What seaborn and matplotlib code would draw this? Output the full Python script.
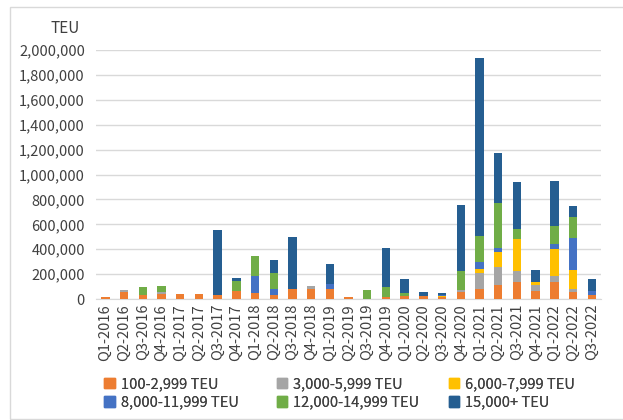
import matplotlib
matplotlib.use("Agg")
import matplotlib.pyplot as plt
import matplotlib.patches as patches
import seaborn as sns
import numpy as np
import pandas as pd

# Quarters and fleet segments
quarters = ["Q1-2016", "Q2-2016", "Q3-2016", "Q4-2016", "Q1-2017", "Q2-2017", "Q3-2017",
            "Q4-2017", "Q1-2018", "Q2-2018", "Q3-2018", "Q4-2018", "Q1-2019", "Q2-2019",
            "Q3-2019", "Q4-2019", "Q1-2020", "Q2-2020", "Q3-2020", "Q4-2020", "Q1-2021",
            "Q2-2021", "Q3-2021", "Q4-2021", "Q1-2022", "Q2-2022", "Q3-2022"]
segments = ["100-2,999 TEU", "3,000-5,999 TEU", "6,000-7,999 TEU",
            "8,000-11,999 TEU", "12,000-14,999 TEU", "15,000+ TEU"]
colors = ["#ED7D31", "#A5A5A5", "#FFC000", "#4472C4", "#70AD47", "#255E91"]

teu_100 = [13000, 56000, 29000, 40000, 40000, 40000, 29000, 67000, 48000, 29000, 80000, 83000, 77000, 19000,
           0, 19000, 27000, 27000, 13000, 56000, 78000, 112000, 139000, 64000, 139000, 59000, 32000]
teu_3000 = [0, 19000, 0, 13000, 0, 0, 0, 0, 0, 0, 0, 19000, 0, 0,
            0, 0, 0, 0, 0, 19000, 134000, 147000, 83000, 48000, 45000, 19000, 0]
teu_6000 = [0, 0, 0, 0, 0, 0, 0, 0, 0, 0, 0, 0, 0, 0,
            0, 0, 0, 0, 13000, 0, 29000, 120000, 259000, 27000, 214000, 155000, 0]
teu_8000 = [0, 0, 0, 0, 0, 0, 0, 0, 139000, 53000, 0, 0, 45000, 0,
            0, 0, 0, 0, 8000, 0, 56000, 27000, 0, 0, 45000, 257000, 35000]
teu_12000 = [0, 0, 67000, 48000, 0, 0, 0, 75000, 155000, 131000, 0, 0, 0, 0,
             75000, 75000, 21000, 0, 0, 147000, 211000, 369000, 80000, 0, 147000, 166000, 0]
teu_15000 = [0, 0, 0, 0, 0, 0, 523000, 27000, 0, 101000, 416000, 0, 157000, 0,
             0, 312000, 109000, 32000, 13000, 535000, 1431000, 396000, 380000, 94000, 358000, 94000, 94000]

series = [teu_100, teu_3000, teu_6000, teu_8000, teu_12000, teu_15000]
df = pd.DataFrame(dict(zip(segments, series)), index=quarters)
cum = df.cumsum(axis=1)

plt.rcParams["font.family"] = ["Noto Sans CJK SC", "DejaVu Sans"]
fig = plt.figure(figsize=(6.23, 4.20), dpi=100)
ax = fig.add_axes([0.154, 0.288, 0.811, 0.593])

# stacked bars: draw cumulative totals from top segment down
for seg, col in reversed(list(zip(segments, colors))):
    sns.barplot(x=quarters, y=cum[seg].values, color=col, width=0.45,
                saturation=1, ax=ax, zorder=3)

ax.set_ylim(0, 2000000)
ax.set_xlim(-0.5, len(quarters) - 0.5)
ax.set_yticks(np.arange(0, 2000001, 200000))
ax.set_yticklabels([f"{v:,}" for v in range(0, 2000001, 200000)], fontsize=10.5, color="#404040")
ax.tick_params(axis="x", rotation=90, labelsize=10.5, colors="#404040", length=0)
ax.tick_params(axis="y", length=0, pad=8)
ax.grid(axis="y", color="#D9D9D9", linewidth=1, zorder=0)
ax.set_axisbelow(True)
for s in ["top", "right", "left"]:
    ax.spines[s].set_visible(False)
ax.spines["bottom"].set_color("#D9D9D9")
ax.set_xlabel("")
ax.set_ylabel("")

fig.text(0.128, 0.933, "TEU", ha="right", va="center", fontsize=11, color="#404040")

# legend: three columns, two rows
handles = [patches.Patch(color=c, label=s) for s, c in zip(segments, colors)]
col_x = [0.163, 0.440, 0.716]
for j in range(3):
    leg = fig.legend([handles[j], handles[j + 3]], [segments[j], segments[j + 3]],
                     loc="lower left", bbox_to_anchor=(col_x[j], 0.018), frameon=False,
                     fontsize=10.5, handlelength=0.7, handleheight=0.7, handletextpad=0.4,
                     labelspacing=0.3, labelcolor="#404040", borderaxespad=0, borderpad=0.2)
    fig.add_artist(leg)

# outer frame
fig.add_artist(patches.Rectangle((0.016, 0.003), 0.99, 0.98, transform=fig.transFigure,
                                 fill=False, edgecolor="#D9D9D9", linewidth=1))

fig.savefig("out.png", dpi=100)
